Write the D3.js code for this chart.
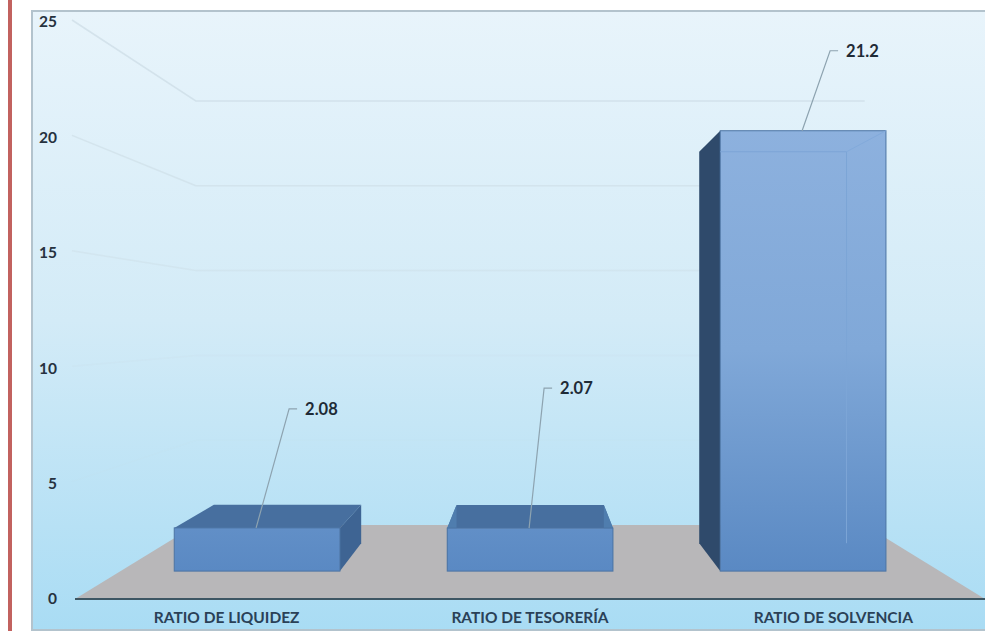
<!DOCTYPE html>
<html>
<head>
<meta charset="utf-8">
<script src="https://cdn.jsdelivr.net/npm/d3@7"></script>
<style>
  html, body { margin: 0; padding: 0; background: #fff; }
  svg { display: block; }
</style>
</head>
<body>
<svg id="chart" width="985" height="631"></svg>
<script>
var categories = ["RATIO DE LIQUIDEZ", "RATIO DE TESORERÍA", "RATIO DE SOLVENCIA"];
var ratios = [2.08, 2.07, 21.2];
var valueLabels = ["2.08", "2.07", "21.2"];
var yTicks = [0, 5, 10, 15, 20, 25];

var svg = d3.select("#chart");
var font = "Lato, 'Open Sans', sans-serif";

// perspective: everything shrinks towards this point
var vx = 531, vy = 320;
var wallDepth = 0.735, frontDepth = 0.9, backDepth = 0.8;

function project(x, y, k) {
    return [vx + k * (x - vx), vy + k * (y - vy)];
}

var x = d3.scaleBand().domain(categories).range([75, 985]).paddingInner(0.393).paddingOuter(0.1965);
var y = d3.scaleLinear().domain([0, 25]).range([599, 22]);

var line = d3.line();
var defs = svg.append("defs");

function gradient(id, y1, y2, stops) {
    var g = defs.append("linearGradient").attr("id", id)
        .attr("gradientUnits", "userSpaceOnUse")
        .attr("x1", 0).attr("x2", 0).attr("y1", y1).attr("y2", y2);
    stops.forEach(function (s, i) {
        g.append("stop").attr("offset", i / (stops.length - 1)).attr("stop-color", s);
    });
}

gradient("bg", 11, 630, ["#e8f4fb", "#d3ebf7", "#a9dcf4"]);
gradient("front", 129, 571, ["#8db1de", "#80a8d8", "#5a89c3"]);

// left page rule
svg.append("rect").attr("x", 8).attr("y", 0).attr("width", 4).attr("height", 631).attr("fill", "#c2625f");

// plot area
svg.append("rect")
    .attr("x", 32).attr("y", 11).attr("width", 970).attr("height", 619)
    .attr("fill", "url(#bg)").attr("stroke", "#b3c3cd").attr("stroke-width", 2);

// floor
svg.append("path")
    .attr("d", line([
        [75, y(0)],
        project(75, y(0), wallDepth),
        project(985, y(0), wallDepth),
        [985, y(0)]
    ]) + "Z")
    .attr("fill", "#b8b7b9");

// gridlines, fading out towards the floor
svg.selectAll(".grid")
    .data(yTicks.filter(function (d) { return d > 0; }))
    .enter().append("path")
    .attr("class", "grid")
    .attr("d", function (d) {
        return line([[72, y(d) - 2], project(75, y(d), wallDepth), project(985, y(d), wallDepth)]);
    })
    .attr("fill", "none")
    .attr("stroke", "#c9d9e2")
    .attr("stroke-width", 1.5)
    .attr("opacity", function (d) { return d >= 15 ? d / 40 : d / 80; });

// axes
var yAxis = svg.append("g")
    .attr("transform", "translate(60,0)")
    .call(d3.axisLeft(y).tickValues(yTicks).tickSize(0).tickPadding(3));
yAxis.select(".domain").remove();
yAxis.selectAll("text")
    .attr("font-family", font).attr("font-size", 15.5).attr("font-weight", 700).attr("fill", "#26323f");

svg.append("line")
    .attr("x1", 75).attr("x2", 985).attr("y1", y(0)).attr("y2", y(0))
    .attr("stroke", "#3d5663").attr("stroke-width", 2);

var xAxis = svg.append("g")
    .attr("transform", "translate(0,612)")
    .call(d3.axisBottom(x).tickSize(0).tickPadding(0));
xAxis.select(".domain").remove();
xAxis.selectAll("text")
    .attr("font-family", font).attr("font-size", 15.5).attr("font-weight", 700).attr("fill", "#2a4157");

// columns
var bars = svg.selectAll(".bar")
    .data(categories)
    .enter().append("g")
    .attr("class", "bar");

function face(g, x1, x2, y1, y2, k1, k2, fill) {
    // a quad going from (x1,y1) to (x2,y2) at depth k1 and back at depth k2
    g.append("path")
        .attr("d", line([
            project(x1, y1, k1), project(x2, y2, k1),
            project(x2, y2, k2), project(x1, y1, k2)
        ]) + "Z")
        .attr("fill", fill);
}

bars.each(function (c, i) {
    var g = d3.select(this);
    var left = x(c), right = x(c) + x.bandwidth();
    var top = y(ratios[i]), base = y(0);
    var front = [project(left, top, frontDepth), project(right, base, frontDepth)];
    var centerFront = project((left + right) / 2, top, frontDepth)[0];

    // roof, seen from above only when it is below the eye
    if (top > vy) {
        face(g, left, right, top, top, frontDepth, backDepth, "#476f9f");
    }
    // side wall facing the eye
    if (right < vx) {
        face(g, right, right, top, base, frontDepth, backDepth, "#3e6493");
    }
    if (left > vx) {
        face(g, left, left, top, base, frontDepth, backDepth, "#2f4a6b");
    }
    // columns straddling the eye show a sliver of both walls
    if (left < vx && right > vx) {
        face(g, left, left, top, base, frontDepth, backDepth, "#4f7dae");
        face(g, right, right, top, base, frontDepth, backDepth, "#4f7dae");
    }

    g.append("rect")
        .attr("x", front[0][0]).attr("y", front[0][1])
        .attr("width", front[1][0] - front[0][0]).attr("height", front[1][1] - front[0][1])
        .attr("fill", "url(#front)")
        .attr("stroke", "#4c74a4").attr("stroke-width", 1);

    // back edges showing through the glass front
    if (top < vy) {
        var b1 = project(left, top, backDepth), b2 = project(right, top, backDepth), b3 = project(right, base, backDepth);
        g.append("path")
            .attr("d", line([[front[0][0], b1[1]], b2, b3]))
            .attr("fill", "none").attr("stroke", "#7ca5d6").attr("stroke-width", 1);
        g.append("path")
            .attr("d", line([[front[1][0], front[0][1]], b2]))
            .attr("fill", "none").attr("stroke", "#82aadb").attr("stroke-width", 1);
    }

    // leader and value label
    var bendX = [33, 15, 28][i], bendY = [119, 140, 80][i];
    var ax = centerFront - 1, ay = front[0][1];
    g.append("path")
        .attr("d", line([[ax, ay], [ax + bendX, ay - bendY], [ax + bendX + 8, ay - bendY]]))
        .attr("fill", "none").attr("stroke", "#8da3b0").attr("stroke-width", 1.2);
    g.append("text")
        .attr("x", ax + bendX + 16).attr("y", ay - bendY + 6)
        .attr("font-family", font).attr("font-size", 16.5).attr("font-weight", 700)
        .attr("fill", "#1f2b36")
        .text(valueLabels[i]);
});
</script>
</body>
</html>
